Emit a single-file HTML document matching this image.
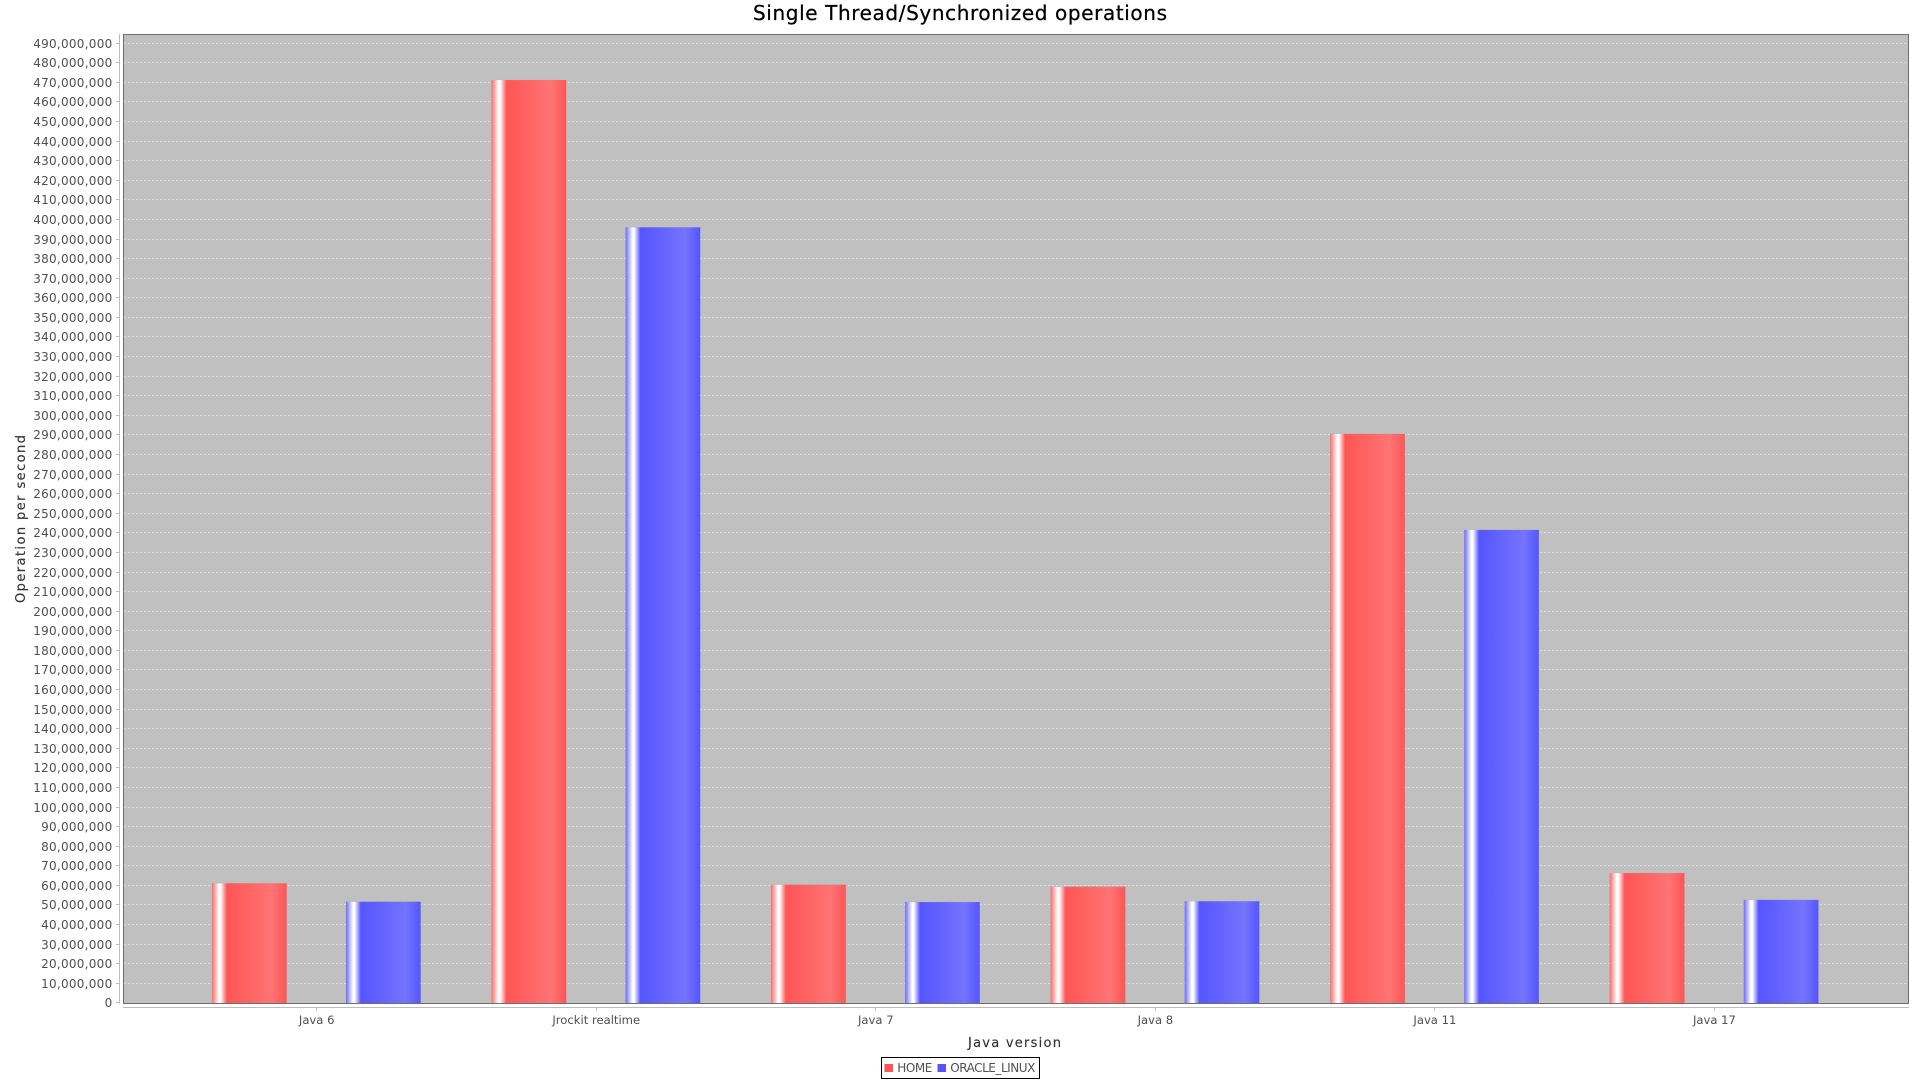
<!DOCTYPE html>
<html lang="en">
<head>
<meta charset="utf-8">
<title>Single Thread/Synchronized operations</title>
<style>
  html, body { margin: 0; padding: 0; background: #fff; width: 1920px; height: 1080px; overflow: hidden; }
  svg { display: block; font-family: "DejaVu Sans", "Liberation Sans", sans-serif; }
  .tick-label { font-size: 12px; fill: #505050; letter-spacing: 0.27px; text-anchor: end; }
  .cat-label { font-size: 11.6px; fill: #505050; text-anchor: middle; }
  .axis-title { font-size: 13px; fill: #333; stroke: #333; stroke-width: 0.15px; }
  .legend-text { font-size: 12px; fill: #505050; }
</style>
</head>
<body>
<svg id="chart" xmlns="http://www.w3.org/2000/svg" width="1920" height="1080" viewBox="0 0 1920 1080">
  <defs>
    <linearGradient id="grad-home" x1="0" x2="1" y1="0" y2="0">
      <stop offset="0" stop-color="#ff6a6a"/>
      <stop offset="0.095" stop-color="#ffffff"/>
      <stop offset="0.115" stop-color="#ffffff"/>
      <stop offset="0.2" stop-color="#ff5555"/>
      <stop offset="0.8" stop-color="#ff7474"/>
      <stop offset="1" stop-color="#ff5555"/>
    </linearGradient>
    <linearGradient id="grad-oracle" x1="0" x2="1" y1="0" y2="0">
      <stop offset="0" stop-color="#6a6aff"/>
      <stop offset="0.095" stop-color="#ffffff"/>
      <stop offset="0.115" stop-color="#ffffff"/>
      <stop offset="0.2" stop-color="#5555ff"/>
      <stop offset="0.8" stop-color="#7474ff"/>
      <stop offset="1" stop-color="#5555ff"/>
    </linearGradient>
  </defs>

  <text x="753" y="20" font-size="20" fill="#000" stroke="#000" stroke-width="0.25" textLength="414" lengthAdjust="spacing">Single Thread/Synchronized operations</text>

  <rect x="123" y="34" width="1785.5" height="969.3" fill="#c0c0c0"/>
  <g id="grid"></g>
  <g id="bars"></g>
  <rect x="123.5" y="34.5" width="1785" height="969" fill="none" stroke="#6e6e6e" stroke-width="1"/>

  <line x1="119.5" y1="34" x2="119.5" y2="1003.5" stroke="#bdbdbd" stroke-width="1"/>
  <g id="y-axis"></g>
  <line x1="123" y1="1007.5" x2="1909" y2="1007.5" stroke="#bdbdbd" stroke-width="1"/>
  <g id="x-axis"></g>

  <text class="axis-title" transform="translate(25,603) rotate(-90)" x="0" y="0" textLength="168" lengthAdjust="spacing">Operation per second</text>
  <text class="axis-title" x="968" y="1047" textLength="93" lengthAdjust="spacing">Java version</text>

  <g>
    <rect x="881.5" y="1057.5" width="158" height="21" fill="#fff" stroke="#000" stroke-width="1"/>
    <rect x="884.5" y="1064" width="8.5" height="8" fill="#ff5555"/>
    <text class="legend-text" x="897.3" y="1072" textLength="35" lengthAdjust="spacing">HOME</text>
    <rect x="937.5" y="1064" width="8.5" height="8" fill="#5555ff"/>
    <text class="legend-text" x="950.3" y="1072" textLength="85" lengthAdjust="spacing">ORACLE_LINUX</text>
  </g>
</svg>

<script>
const categories = ["Java 6", "Jrockit realtime", "Java 7", "Java 8", "Java 11", "Java 17"];
const homeValues = [61070000, 471200000, 60350000, 59300000, 290500000, 66300000];
const oracleLinuxValues = [51670000, 396000000, 51500000, 51900000, 241500000, 52600000];
const yTickValues = [
  0, 10000000, 20000000, 30000000, 40000000, 50000000, 60000000, 70000000, 80000000, 90000000,
  100000000, 110000000, 120000000, 130000000, 140000000, 150000000, 160000000, 170000000, 180000000, 190000000,
  200000000, 210000000, 220000000, 230000000, 240000000, 250000000, 260000000, 270000000, 280000000, 290000000,
  300000000, 310000000, 320000000, 330000000, 340000000, 350000000, 360000000, 370000000, 380000000, 390000000,
  400000000, 410000000, 420000000, 430000000, 440000000, 450000000, 460000000, 470000000, 480000000, 490000000
];

const NS = "http://www.w3.org/2000/svg";
const AXIS_MAX = 494700000;
const AXIS_TOP_PX = 34;
const AXIS_BASE_PX = 1002.9;
const BAR_BOTTOM_PX = 1003.3;
const PLOT_LEFT = 124;
const PLOT_RIGHT = 1908;
const FIRST_CATEGORY_X = 316.7;
const CATEGORY_STEP = 279.55;
const BAR_WIDTH = 74.7;
const BAR_OFFSET = 67;
const BAR_SHIFT = -0.35;

function yScale(v) {
  return AXIS_BASE_PX - (v / AXIS_MAX) * (AXIS_BASE_PX - AXIS_TOP_PX);
}
function xScale(i) {
  return FIRST_CATEGORY_X + i * CATEGORY_STEP;
}
function make(tag, attrs) {
  const el = document.createElementNS(NS, tag);
  for (const k in attrs) el.setAttribute(k, attrs[k]);
  return el;
}

const gridGroup = document.getElementById("grid");
const yAxisGroup = document.getElementById("y-axis");
yTickValues.forEach(function (v) {
  const y = Math.floor(yScale(v)) + 0.5;
  if (v > 0) {
    const grid = make("line", { x1: PLOT_LEFT, x2: PLOT_RIGHT, y1: y, y2: y, stroke: "#e0e0e0", "stroke-width": 1, "stroke-dasharray": "2 2" });
    
    
    gridGroup.appendChild(grid);
  }
  const tick = make("line", { x1: 116, x2: 119, y1: y, y2: y, stroke: "#bdbdbd", "stroke-width": 1 });
  
  
  yAxisGroup.appendChild(tick);
  const label = make("text", { class: "tick-label", x: 112.5, y: y + 4.5 });
  
  
  label.textContent = v.toLocaleString("en-US");
  yAxisGroup.appendChild(label);
});

const barsGroup = document.getElementById("bars");
function drawBar(i, value, offset, fill, name) {
  const top = yScale(value);
  const bar = make("rect", { x: xScale(i) + offset + BAR_SHIFT - BAR_WIDTH / 2, y: top, width: BAR_WIDTH, height: BAR_BOTTOM_PX - top, fill: fill, stroke: "#a0a0a0", "stroke-opacity": 0.25, "stroke-width": 0.6 });
  
  
  barsGroup.appendChild(bar);
}
homeValues.forEach(function (v, i) {
  drawBar(i, v, -BAR_OFFSET, "url(#grad-home)", "bar-home");
});
oracleLinuxValues.forEach(function (v, i) {
  drawBar(i, v, BAR_OFFSET, "url(#grad-oracle)", "bar-oracle-linux");
});

const xAxisGroup = document.getElementById("x-axis");
categories.forEach(function (c, i) {
  const x = xScale(i);
  const tick = make("line", { x1: Math.floor(x) + 0.5, x2: Math.floor(x) + 0.5, y1: 1007.5, y2: 1011, stroke: "#bdbdbd", "stroke-width": 1 });
  
  
  xAxisGroup.appendChild(tick);
  const label = make("text", { class: "cat-label", x: x, y: 1024 });
  
  
  label.textContent = c;
  xAxisGroup.appendChild(label);
});
</script>
</body>
</html>
